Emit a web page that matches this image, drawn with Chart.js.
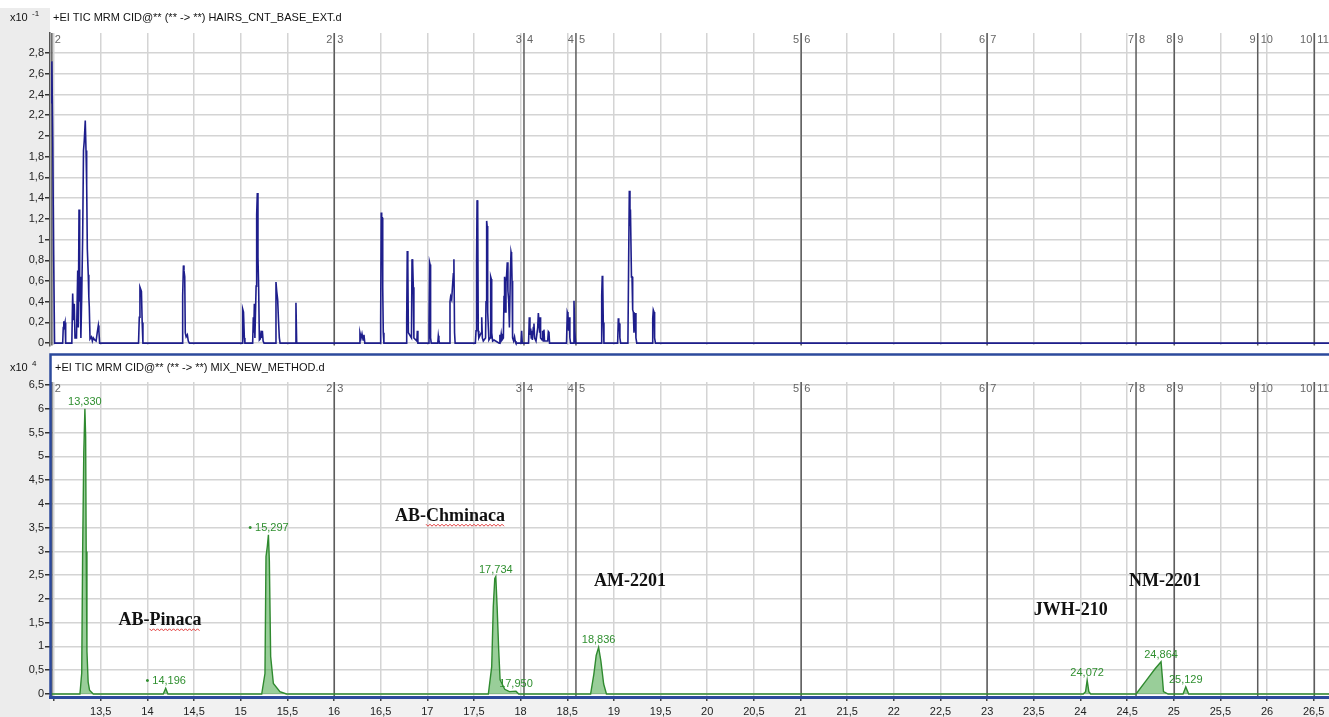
<!DOCTYPE html>
<html>
<head>
<meta charset="utf-8">
<script src="https://cdn.jsdelivr.net/npm/chart.js@4.4.1/dist/chart.umd.min.js"></script>
<style>
  html, body { margin: 0; padding: 0; background: #fff; }
  #wrap { position: relative; width: 1329px; height: 717px; overflow: hidden; }
  .pane { position: absolute; left: 0; width: 1329px; }
  #topPane { top: 0; height: 353px; }
  #bottomPane { top: 353px; height: 364px; }
</style>
</head>
<body>
<div id="wrap">
  <div class="pane" id="topPane"><canvas id="topChart"></canvas></div>
  <div class="pane" id="bottomPane"><canvas id="bottomChart"></canvas></div>
</div>
<script>
// acquisition time window (min)
const timeMin = 12.956;
const timeMax = 26.664;

// HAIRS_CNT_BASE_EXT.d  (counts x10^-1)
const hairsTime = [
  12.967, 12.976, 12.985, 12.995, 13.005,
  13.092, 13.098, 13.104, 13.110, 13.117, 13.124,
  13.190, 13.199, 13.207, 13.216, 13.224, 13.240, 13.253, 13.259, 13.267, 13.274, 13.280, 13.287,
  13.296, 13.306, 13.315, 13.323, 13.334, 13.342, 13.349, 13.356, 13.366, 13.372, 13.377, 13.385,
  13.400, 13.410, 13.420, 13.435, 13.450, 13.462, 13.474, 13.480, 13.488,
  13.905, 13.913, 13.920, 13.928, 13.936, 13.944, 13.952,
  14.372, 14.378, 14.386, 14.392, 14.400, 14.406, 14.415, 14.428, 14.438, 14.450,
  15.015, 15.021, 15.030, 15.039, 15.045,
  15.128, 15.135, 15.140, 15.146, 15.152, 15.165, 15.171, 15.178, 15.185, 15.192, 15.200,
  15.210, 15.220, 15.226, 15.232, 15.240, 15.250,
  15.372, 15.378, 15.386, 15.396, 15.405, 15.414, 15.422,
  15.585, 15.592, 15.600,
  16.270, 16.278, 16.290, 16.300, 16.312, 16.321, 16.330,
  16.495, 16.500, 16.506, 16.511, 16.517, 16.522, 16.528, 16.535,
  16.772, 16.779, 16.785, 16.791, 16.797, 16.830, 16.836, 16.843, 16.850, 16.856, 16.888, 16.893, 16.899,
  17.012, 17.018, 17.024, 17.029, 17.035, 17.042,
  17.112, 17.118, 17.124, 17.130,
  17.238, 17.243, 17.250, 17.261, 17.270, 17.279, 17.285, 17.292, 17.298,
  17.515, 17.522, 17.528, 17.533, 17.540, 17.546, 17.552, 17.578, 17.583, 17.590, 17.600,
  17.624, 17.629, 17.636, 17.641, 17.647, 17.660, 17.673, 17.679, 17.685, 17.690, 17.700, 17.715,
  17.770, 17.778, 17.785, 17.792, 17.800, 17.815, 17.822, 17.828, 17.835, 17.843, 17.850, 17.857,
  17.864, 17.872, 17.880, 17.890, 17.897, 17.903, 17.908, 17.914, 17.925, 17.935, 17.942, 17.950,
  18.004, 18.011, 18.018,
  18.085, 18.093, 18.100, 18.108, 18.114, 18.120, 18.126, 18.136, 18.143, 18.150, 18.165, 18.183,
  18.190, 18.197, 18.204, 18.208, 18.214, 18.230, 18.236, 18.243, 18.250, 18.256, 18.290, 18.297,
  18.304, 18.310,
  18.492, 18.500, 18.507, 18.514, 18.521, 18.528, 18.535, 18.565, 18.572, 18.580, 18.590,
  18.862, 18.869, 18.875, 18.880, 18.886, 18.893,
  19.040, 19.047, 19.052, 19.058, 19.064, 19.072,
  19.150, 19.158, 19.165, 19.172, 19.177, 19.183, 19.188, 19.194, 19.201, 19.208, 19.215, 19.229,
  19.236, 19.245,
  19.410, 19.416, 19.422, 19.430, 19.436, 19.445,
  26.664
];
const hairsSignal = [
  2.32, 2.72, 2.00, 0.85, 0,
  0, 0.15, 0.21, 0.17, 0.20, 0,
  0, 0.48, 0.22, 0.38, 0.05, 0.05, 0.70, 0.15, 1.29, 0.40, 0.64, 0.05,
  0.45, 1.02, 1.86, 1.95, 2.15, 1.86, 1.53, 0.91, 0.66, 0.45, 0.35, 0.04,
  0.06, 0.02, 0.05, 0.03, 0.02, 0.10, 0.17, 0.12, 0,
  0, 0.25, 0.54, 0.52, 0.50, 0.20, 0,
  0, 0.46, 0.75, 0.70, 0.64, 0.10, 0.06, 0.08, 0.02, 0,
  0, 0.33, 0.30, 0.05, 0,
  0, 0.25, 0.10, 0.38, 0.05, 0.55, 1.24, 1.45, 0.83, 0.55, 0.03,
  0.04, 0.12, 0.05, 0.12, 0.02, 0,
  0, 0.59, 0.50, 0.42, 0.22, 0.05, 0,
  0, 0.39, 0,
  0, 0.10, 0.05, 0.09, 0.03, 0.08, 0,
  0, 0.23, 1.26, 1.21, 1.21, 0.54, 0.10, 0,
  0, 0.23, 0.89, 0.77, 0.10, 0.05, 0.81, 0.77, 0.54, 0.05, 0.02, 0.12, 0,
  0, 0.20, 0.78, 0.76, 0.05, 0,
  0, 0.07, 0.03, 0,
  0, 0.40, 0.45, 0.42, 0.55, 0.67, 0.81, 0.10, 0,
  0, 0.12, 0.81, 1.38, 1.30, 0.12, 0.05, 0.10, 0.25, 0.05, 0.02,
  0.05, 0.40, 1.18, 1.13, 0.30, 0.03, 0.05, 0.64, 0.62, 0.10, 0.02, 0.03,
  0, 0.08, 0.04, 0.09, 0.03, 0.05, 0.45, 0.64, 0.30, 0.60, 0.66, 0.78,
  0.50, 0.41, 0.15, 0.67, 0.88, 0.85, 0.60, 0.05, 0.02, 0.06, 0.02, 0,
  0, 0.12, 0,
  0, 0.25, 0.08, 0.14, 0.05, 0.12, 0.03, 0.15, 0.19, 0.05, 0.02, 0.15,
  0.29, 0.20, 0.10, 0.25, 0.05, 0.03, 0.12, 0.02, 0.13, 0.02, 0.02, 0.11,
  0.10, 0,
  0, 0.30, 0.28, 0.12, 0.25, 0.05, 0, 0, 0.41, 0.12, 0,
  0, 0.46, 0.65, 0.60, 0.20, 0,
  0, 0.24, 0.19, 0.19, 0.05, 0,
  0, 0.81, 1.47, 1.13, 1.29, 1.29, 0.64, 0.64, 0.32, 0.30, 0.10, 0.29,
  0.05, 0,
  0, 0.24, 0.32, 0.30, 0.05, 0,
  0
];

// MIX_NEW_METHOD.d  (counts x10^4)
const mixTime = [
  12.956,
  13.277, 13.296, 13.306, 13.318, 13.330, 13.338, 13.344, 13.352, 13.365, 13.380, 13.420,
  14.170, 14.196, 14.220,
  15.225, 15.260, 15.271, 15.285, 15.297, 15.307, 15.321, 15.350, 15.420, 15.490,
  17.654, 17.690, 17.707, 17.723, 17.734, 17.748, 17.765, 17.780, 17.830, 17.880, 17.950, 17.980,
  18.750, 18.785, 18.810, 18.836, 18.860, 18.890, 18.920,
  24.030, 24.055, 24.072, 24.090, 24.110,
  24.596, 24.700, 24.800, 24.864, 24.878, 24.890, 24.940,
  25.100, 25.129, 25.160,
  26.664
];
const mixSignal = [
  0,
  0, 0.44, 3.03, 5.07, 6.00, 5.42, 3.00, 0.90, 0.25, 0.08, 0,
  0, 0.12, 0,
  0, 0.43, 2.89, 3.10, 3.35, 2.80, 0.79, 0.22, 0.05, 0,
  0, 0.57, 1.84, 2.43, 2.47, 1.84, 0.93, 0.30, 0.10, 0.05, 0.06, 0,
  0, 0.42, 0.81, 0.98, 0.70, 0.21, 0,
  0, 0.05, 0.29, 0.05, 0,
  0, 0.27, 0.53, 0.68, 0.35, 0.05, 0,
  0, 0.15, 0,
  0
];

// labelled peaks (retention time, apex)
const peakTimes = [13.330, 14.196, 15.297, 17.734, 17.950, 18.836, 24.072, 24.864, 25.129];
const peakHeights = [6.00, 0.12, 3.35, 2.47, 0.06, 0.98, 0.29, 0.68, 0.15];
const peakStarred = [false, true, true, false, false, false, false, false, false];

// compound annotations
const compoundNames = ['AB-Pinaca', 'AB-Chminaca', 'AM-2201', 'JWH-210', 'NM-2201'];
const compoundTimes = [14.135, 17.243, 19.172, 23.896, 24.906];
const compoundLevels = [1.54, 3.74, 2.36, 1.75, 2.36];
const compoundPrefix = ['AB-', 'AB-', '', '', ''];
const compoundMarked = [true, true, false, false, false];

// MRM time segment boundaries
const segmentTimes = [12.976, 16.003, 18.036, 18.593, 21.007, 23.000, 24.596, 25.006, 25.900, 26.507];
const segmentLeft = ['', '2', '3', '4', '5', '6', '7', '8', '9', '10'];
const segmentRight = ['2', '3', '4', '5', '6', '7', '8', '9', '10', '11'];

Chart.defaults.font.family = '"Liberation Sans", Arial, sans-serif';
Chart.defaults.font.size = 11;
Chart.defaults.color = '#222';

const fmt = v => {
  const r = Math.round(v * 10) / 10;
  return Number.isInteger(r) ? String(r) : r.toFixed(1).replace('.', ',');
};
const toPoints = (xs, ys) => xs.map((t, i) => ({ x: t, y: ys[i] }));

const decorPlugin = {
  id: 'paneDecor',
  beforeDraw(chart, args, o) {
    const { ctx, width, height, chartArea: a } = chart;
    ctx.save();
    ctx.fillStyle = '#ececec';
    ctx.fillRect(0, o.grayTop, a.left, height - o.grayTop);
    if (o.bottomStrip) {
      ctx.fillStyle = '#f1f1f1';
      ctx.fillRect(a.left, a.bottom, width - a.left, height - a.bottom);
    }
    ctx.restore();
  },
  beforeDatasetsDraw(chart) {
    const { ctx, chartArea: a, scales: { x } } = chart;
    ctx.save();
    ctx.strokeStyle = '#5c5c5c';
    ctx.lineWidth = 1.5;
    ctx.fillStyle = '#666';
    ctx.font = '11px "Liberation Sans", Arial, sans-serif';
    ctx.textBaseline = 'middle';
    segmentTimes.forEach((t, i) => {
      const px = x.getPixelForValue(t);
      ctx.beginPath();
      ctx.moveTo(px, a.top);
      ctx.lineTo(px, a.bottom);
      ctx.stroke();
      ctx.textAlign = 'right';
      ctx.fillText(segmentLeft[i], px - 2, a.top + 7);
      ctx.textAlign = 'left';
      ctx.fillText(segmentRight[i], px + 3, a.top + 7);
    });
    ctx.restore();
  },
  afterDraw(chart, args, o) {
    const { ctx, chartArea: a } = chart;
    ctx.save();
    ctx.fillStyle = '#111';
    ctx.textBaseline = 'middle';
    ctx.textAlign = 'left';
    ctx.font = '11px "Liberation Sans", Arial, sans-serif';
    ctx.fillText('x10', 10, o.headerY);
    ctx.fillText(o.title, o.titleX, o.headerY);
    ctx.font = '8px "Liberation Sans", Arial, sans-serif';
    ctx.fillText(o.exponent, 32, o.headerY - 4);
    if (o.box) {
      ctx.strokeStyle = '#2c4a9c';
      ctx.lineWidth = 2.5;
      ctx.beginPath();
      ctx.moveTo(50.5, a.bottom);
      ctx.lineTo(50.5, 1.5);
      ctx.lineTo(chart.width, 1.5);
      ctx.stroke();
      ctx.lineWidth = 3;
      ctx.beginPath();
      ctx.moveTo(49, a.bottom + 0.5);
      ctx.lineTo(chart.width, a.bottom + 0.5);
      ctx.stroke();
    }
    ctx.restore();
  }
};

const annotatePlugin = {
  id: 'peakNotes',
  afterDatasetsDraw(chart) {
    const { ctx, scales: { x, y } } = chart;
    ctx.save();
    ctx.fillStyle = '#2f8f2f';
    ctx.font = '11px "Liberation Sans", Arial, sans-serif';
    ctx.textAlign = 'center';
    ctx.textBaseline = 'middle';
    peakTimes.forEach((t, i) => {
      const label = (peakStarred[i] ? '\u2022 ' : '') + t.toFixed(3).replace('.', ',');
      ctx.fillText(label, x.getPixelForValue(t), y.getPixelForValue(peakHeights[i]) - 7);
    });
    ctx.font = 'bold 18px "Liberation Serif", "Times New Roman", serif';
    compoundNames.forEach((name, i) => {
      const cx = x.getPixelForValue(compoundTimes[i]);
      const cy = y.getPixelForValue(compoundLevels[i]);
      ctx.fillStyle = '#111';
      ctx.fillText(name, cx, cy);
      if (compoundMarked[i]) {
        const w = ctx.measureText(name).width;
        const x0 = cx - w / 2 + ctx.measureText(compoundPrefix[i]).width;
        const x1 = cx + w / 2;
        ctx.strokeStyle = '#e03a3a';
        ctx.lineWidth = 1;
        ctx.beginPath();
        for (let px = x0, k = 0; px <= x1; px += 2, k++) {
          const py = cy + 9 + (k % 2 ? 1 : -1);
          if (k === 0) ctx.moveTo(px, py); else ctx.lineTo(px, py);
        }
        ctx.stroke();
      }
    });
    ctx.restore();
  }
};

function paneOptions(cfg) {
  return {
    responsive: true,
    maintainAspectRatio: false,
    animation: false,
    events: [],
    layout: { padding: { top: cfg.top, left: 0, right: 0, bottom: 0 } },
    plugins: { legend: { display: false }, tooltip: { enabled: false }, paneDecor: cfg.decor },
    scales: {
      x: {
        type: 'linear',
        min: timeMin,
        max: timeMax,
        afterFit: s => { s.height = cfg.xHeight; },
        border: { display: false },
        grid: { color: '#d4d4d4', lineWidth: 1.5, drawTicks: cfg.xLabels, tickLength: 4, tickColor: '#444' },
        ticks: {
          display: cfg.xLabels, stepSize: 0.5, includeBounds: false, autoSkip: false,
          maxRotation: 0, padding: 4, color: '#222',
          callback: v => (Math.abs(v - 13) < 1e-6 ? '' : fmt(v))
        }
      },
      y: {
        min: cfg.yMin,
        max: cfg.yMax,
        afterFit: s => { s.width = 50; },
        border: { display: cfg.yBorder, color: '#555', width: 1.5 },
        grid: { color: '#d4d4d4', lineWidth: 1.5, tickLength: 5, tickColor: '#333' },
        ticks: { stepSize: cfg.yStep, includeBounds: false, padding: 1, color: '#222', callback: v => fmt(v) }
      }
    }
  };
}

new Chart(document.getElementById('topChart'), {
  type: 'line',
  data: {
    datasets: [{
      data: toPoints(hairsTime, hairsSignal),
      borderColor: '#1e1e8c',
      borderWidth: 1.6,
      pointRadius: 0,
      tension: 0,
      fill: false
    }]
  },
  options: paneOptions({
    top: 33, xHeight: 4, xLabels: false, yMin: -0.022, yMax: 2.994, yStep: 0.2, yBorder: true,
    decor: { grayTop: 8, bottomStrip: false, headerY: 18, titleX: 53, exponent: '-1', box: false,
      title: '+EI TIC MRM CID@** (** -> **) HAIRS_CNT_BASE_EXT.d' }
  }),
  plugins: [decorPlugin]
});

new Chart(document.getElementById('bottomChart'), {
  type: 'line',
  data: {
    datasets: [{
      data: toPoints(mixTime, mixSignal),
      borderColor: '#2f8a2f',
      backgroundColor: 'rgba(70, 165, 70, 0.55)',
      borderWidth: 1.4,
      pointRadius: 0,
      tension: 0,
      fill: 'origin'
    }]
  },
  options: paneOptions({
    top: 29, xHeight: 20, xLabels: true, yMin: -0.063, yMax: 6.563, yStep: 0.5, yBorder: false,
    decor: { grayTop: 0, bottomStrip: true, headerY: 15, titleX: 55, exponent: '4', box: true,
      title: '+EI TIC MRM CID@** (** -> **) MIX_NEW_METHOD.d' }
  }),
  plugins: [decorPlugin, annotatePlugin]
});
</script>
</body>
</html>
